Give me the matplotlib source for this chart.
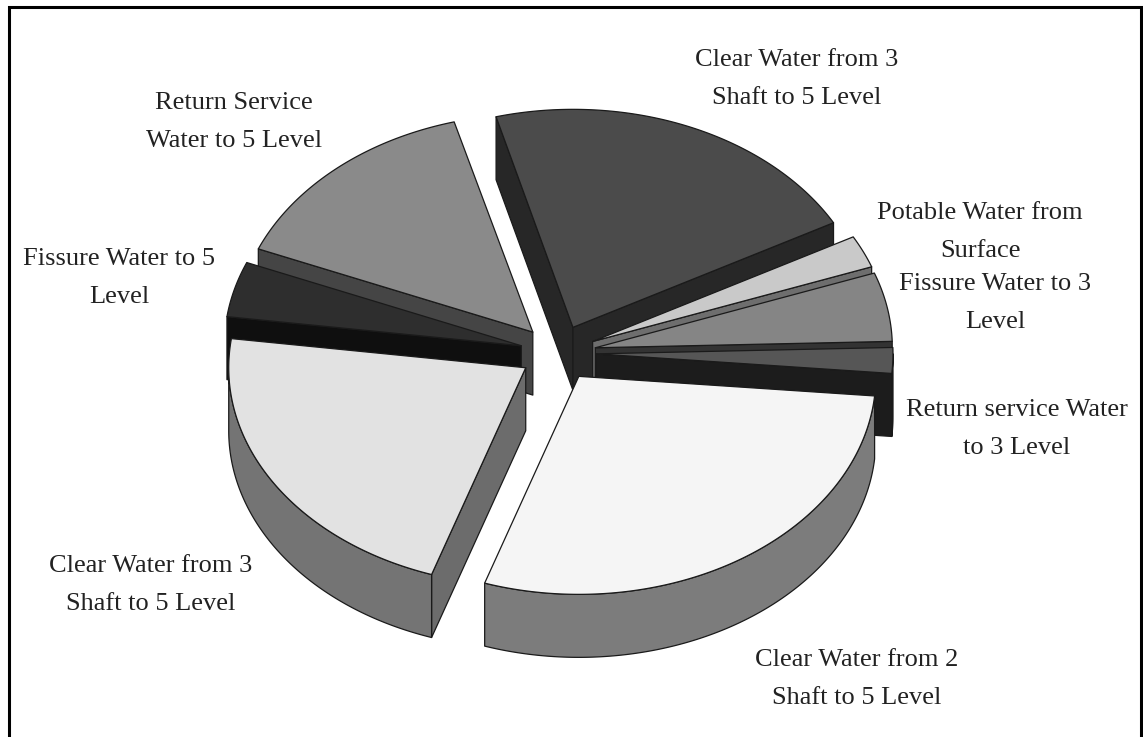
import numpy as np
import matplotlib
matplotlib.use("Agg")
import matplotlib.pyplot as plt
from matplotlib.patches import Polygon

# Share of mine water per source, in percent, clockwise from the top of the pie
sources = [
    "Clear Water from 3\nShaft to 5 Level",
    "Potable Water from\nSurface",
    "Fissure Water to 3\nLevel",
    "Return service Water\nto 3 Level",
    "Clear Water from 2\nShaft to 5 Level",
    "Clear Water from 3\nShaft to 5 Level",
    "Fissure Water to 5\nLevel",
    "Return Service\nWater to 5 Level",
]
shares = [21.2, 2.4, 5.1, 1.9, 28.7, 22.0, 4.1, 14.5]

top_colors = ["#4b4b4b", "#c9c9c9", "#858585", "#565656", "#f5f5f5", "#e2e2e2", "#2e2e2e", "#8a8a8a"]
wall_colors = ["#272727", "#6e6e6e", "#333333", "#1c1c1c", "#787878", "#6c6c6c", "#0f0f0f", "#454545"]
rim_colors = ["#272727", "#6e6e6e", "#333333", "#1c1c1c", "#7c7c7c", "#747474", "#0f0f0f", "#454545"]
label_xy = [(797, 79), (980, 232), (995, 303), (1017, 429),
            (857, 679), (151, 585), (119, 278), (234, 122)]

# Pie geometry in figure pixels
CENTER_X, CENTER_Y = 558, 353
RX, RY = 297, 218
DEPTH = 63
EXPLODE = 0.128
START_ANGLE = -15
# Back slices are painted first so the front ones overlap them
PAINT_ORDER = [7, 0, 1, 2, 6, 3, 5, 4]
EDGE = "#1a1a1a"

fig = plt.figure(figsize=(11.43, 7.37), dpi=100, facecolor="white")
ax = fig.add_axes([0, 0, 1, 1])
ax.set_xlim(0, 1143)
ax.set_ylim(737, 0)
ax.axis("off")


def rim(cx, cy, a0, a1):
    """Points along the slice's rim between two clockwise-from-top angles."""
    t = np.radians(np.linspace(a0, a1, max(int(abs(a1 - a0)) * 2, 2)))
    return np.column_stack([cx + RX * np.sin(t), cy - RY * np.cos(t)])


def prism_wall(points, color, z):
    """A vertical wall hanging from a polyline on the slice's top face."""
    lowered = points[::-1] + [0, DEPTH]
    ax.add_patch(Polygon(np.vstack([points, lowered]), closed=True, facecolor=color,
                         edgecolor=EDGE, linewidth=0.9, joinstyle="round", zorder=z))


edges = START_ANGLE + 3.6 * np.concatenate([[0], np.cumsum(shares)])

for order, i in enumerate(PAINT_ORDER):
    a0, a1 = edges[i], edges[i + 1]
    mid = np.radians((a0 + a1) / 2)
    cx = CENTER_X + EXPLODE * RX * np.sin(mid)
    cy = CENTER_Y - EXPLODE * RY * np.cos(mid)
    apex = np.array([[cx, cy]])
    arc = rim(cx, cy, a0, a1)
    z = 2 + order

    # Only radial faces turned towards the viewer are drawn
    if np.sin(np.radians(a0)) < 0:
        prism_wall(np.vstack([apex, arc[:1]]), wall_colors[i], z)
    if np.sin(np.radians(a1)) > 0:
        prism_wall(np.vstack([apex, arc[-1:]]), wall_colors[i], z)
    # Front-facing part of the outer rim, then the top face
    lo, hi = max(a0, 90), min(a1, 270)
    if hi > lo:
        prism_wall(rim(cx, cy, lo, hi), rim_colors[i], z)
    ax.add_patch(Polygon(np.vstack([apex, arc]), closed=True, facecolor=top_colors[i],
                         edgecolor=EDGE, linewidth=0.9, joinstyle="round", zorder=z))

for text, (x, y) in zip(sources, label_xy):
    ax.text(x, y, text, family="Liberation Serif", fontsize=19, color="#222222",
            ha="center", va="center", multialignment="center", linespacing=1.92, zorder=20)

# Open-bottomed black frame around the chart
ax.plot([9, 9, 1141, 1141], [737, 7, 7, 737], color="black", linewidth=2.2,
        solid_joinstyle="miter", zorder=30)

fig.savefig("out.png", dpi=100, facecolor="white")
